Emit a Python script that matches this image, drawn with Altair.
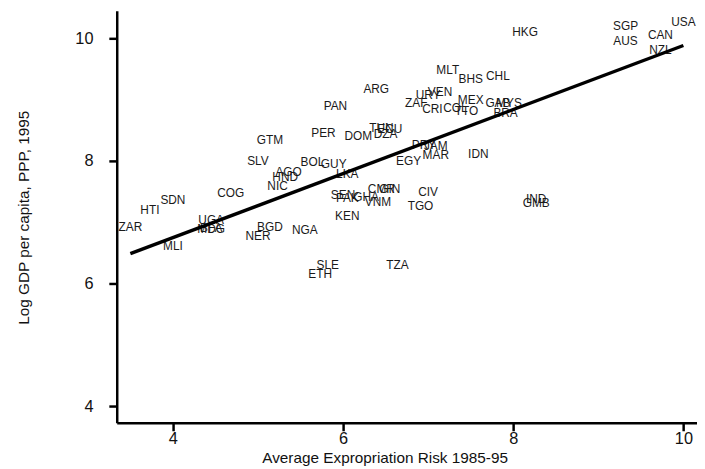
import altair as alt
import pandas as pd

codes = ["ZAR","HTI","SDN","MLI","COG","UGA","MDG","BFA","NER","BGD","NGA","ETH","SLE","TZA",
         "KEN","SEN","PAK","GHA","CMR","GIN","VNM","TGO","CIV","IND","GMB",
         "NIC","HND","AGO","SLV","BOL","GUY","LKA","GTM","PER","PAN","DOM","DZA","TUN","ECU",
         "ARG","EGY","PRY","JAM","MAR","IDN","ZAF","URY","VEN","CRI","COL","TTO","MEX","MLT",
         "BHS","CHL","GAB","MYS","BRA","HKG","SGP","AUS","CAN","NZL","USA"]
risk = [3.50,3.73,4.00,4.00,4.68,4.45,4.45,4.45,5.00,5.14,5.55,5.73,5.82,6.64,
        6.05,6.00,6.05,6.27,6.45,6.55,6.41,6.91,7.00,8.27,8.27,
        5.23,5.32,5.36,5.00,5.64,5.89,6.05,5.14,5.77,5.91,6.18,6.50,6.45,6.55,
        6.39,6.77,6.95,7.09,7.09,7.59,6.86,7.00,7.14,7.05,7.32,7.45,7.50,7.23,
        7.50,7.82,7.82,7.95,7.91,8.14,9.32,9.32,9.73,9.73,10.00]
loggdp = [6.87,7.15,7.31,6.57,7.42,6.98,6.84,6.85,6.73,6.88,6.82,6.11,6.25,6.25,
          7.05,7.40,7.35,7.37,7.50,7.49,7.28,7.22,7.44,7.33,7.27,
          7.54,7.69,7.77,7.95,7.93,7.90,7.73,8.29,8.40,8.84,8.36,8.39,8.48,8.47,
          9.13,7.95,8.21,8.19,8.04,8.07,8.89,9.03,9.07,8.79,8.81,8.77,8.94,9.43,
          9.29,9.34,8.90,8.89,8.73,10.05,10.15,9.90,10.00,9.76,10.22]

df = pd.DataFrame({"code": codes, "risk": risk, "gdp": loggdp})

font = "Liberation Sans"

xscale = alt.Scale(domain=[3.34, 10.16], nice=False, zero=False)
yscale = alt.Scale(domain=[3.73, 10.45], nice=False, zero=False)

base = alt.Chart(df)

labels = base.mark_text(font=font, fontSize=12, color="#1a1a1a", dy=-3).encode(
    x=alt.X("risk:Q", scale=xscale,
            axis=alt.Axis(values=[4, 6, 8, 10], format="d",
                          title="Average Expropriation Risk 1985-95",
                          titleX=271, titleY=35, titleBaseline="middle",
                          labelPadding=0)),
    y=alt.Y("gdp:Q", scale=yscale,
            axis=alt.Axis(values=[4, 6, 8, 10], format="d",
                          title="Log GDP per capita, PPP, 1995",
                          titleX=-94, titleY=209, titleBaseline="middle", titleAlign="center",
                          labelPadding=16)),
    text="code:N",
)

fit = base.transform_regression("risk", "gdp").mark_line(color="black", strokeWidth=3.5).encode(
    x=alt.X("risk:Q", scale=xscale),
    y=alt.Y("gdp:Q", scale=yscale),
)

chart = alt.layer(labels, fit).properties(
    width=587, height=417,
    autosize=alt.AutoSizeParams(type="none"),
    padding={"left": 110, "top": 0, "right": 0, "bottom": 44},
).configure_view(stroke=None).configure_axis(
    grid=False,
    domainColor="black", domainWidth=2.5,
    tickColor="black", tickWidth=2.5, tickSize=8,
    labelFont=font, labelFontSize=16.5, labelColor="#111",
    titleFont=font, titleFontSize=15.5, titleFontWeight="normal", titleColor="#111",
)

chart.save("out.html", embed_options={"renderer": "svg", "actions": False})
